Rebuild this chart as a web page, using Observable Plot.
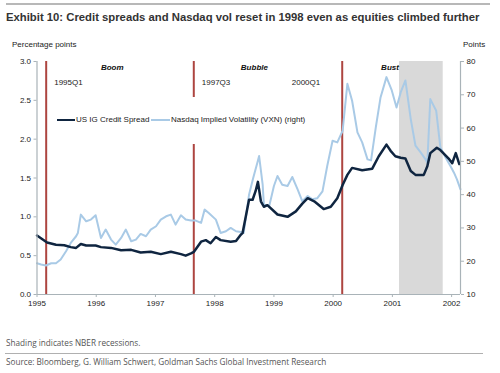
<!DOCTYPE html>
<html><head><meta charset="utf-8">
<script src="https://cdn.jsdelivr.net/npm/d3@7"></script>
<script src="https://cdn.jsdelivr.net/npm/@observablehq/plot@0.6"></script>
<style>
body{margin:0;background:#fff;}
#wrap{position:relative;width:500px;height:373px;overflow:hidden;font-family:"Liberation Sans",Arial,sans-serif;color:#222;}
.abs{position:absolute;white-space:nowrap;}
.sm{font-size:8px;line-height:10px;}
.note{font-family:"Open Sans",sans-serif;font-size:8.2px;line-height:10px;color:#555;}
</style></head><body>
<div id="wrap">
  <div class="abs" style="left:6px;top:3px;width:484px;height:2px;background:#b8b8b8"></div>
  <div class="abs" id="title" style="left:6px;top:10px;font-weight:bold;font-size:11.3px;line-height:14px;font-family:'Liberation Sans Narrow','Liberation Sans',sans-serif;color:#333">Exhibit 10: Credit spreads and Nasdaq vol reset in 1998 even as equities climbed further</div>
  <div class="abs sm" style="left:12px;top:40px">Percentage points</div>
  <div class="abs sm" style="left:463px;top:40px">Points</div>
  <div id="chart" class="abs" style="left:0;top:30px"></div>
  <div class="abs" id="legend" style="left:55px;top:97px;width:255px;height:47px;background:#fff">
    <div class="abs" style="left:2px;top:22px;width:18px;height:2px;background:#0f2540"></div>
    <div class="abs sm" style="left:21px;top:18px">US IG Credit Spread</div>
    <div class="abs" style="left:96px;top:22px;width:19px;height:2px;background:#a9cae6"></div>
    <div class="abs sm" style="left:116px;top:18px">Nasdaq Implied Volatility (VXN) (right)</div>
  </div>
  <div class="abs note" style="left:6px;top:338px">Shading indicates NBER recessions.</div>
  <div class="abs" style="left:5px;top:353px;width:478px;height:1px;background:#b0b0b0"></div>
  <div class="abs note" style="left:6px;top:357px">Source: Bloomberg, G. William Schwert, Goldman Sachs Global Investment Research</div>
</div>
<script>
// ---- data ----
const spreadYears = [1995.00,1995.17,1995.32,1995.46,1995.57,1995.66,1995.74,1995.83,1995.99,1996.08,1996.25,1996.42,1996.59,1996.75,1996.92,1997.09,1997.26,1997.43,1997.51,1997.60,1997.65,1997.77,1997.85,1997.93,1998.02,1998.10,1998.27,1998.36,1998.44,1998.47,1998.58,1998.64,1998.69,1998.73,1998.78,1998.83,1998.89,1999.06,1999.23,1999.37,1999.48,1999.57,1999.68,1999.84,1999.96,2000.07,2000.16,2000.24,2000.32,2000.49,2000.66,2000.77,2000.90,2000.97,2001.05,2001.14,2001.22,2001.31,2001.39,2001.53,2001.59,2001.64,2001.75,2001.81,2001.95,2002.01,2002.07,2002.13];
const spreadValues = [0.76,0.67,0.64,0.635,0.61,0.60,0.65,0.63,0.63,0.61,0.60,0.57,0.575,0.54,0.55,0.52,0.55,0.52,0.50,0.53,0.55,0.68,0.70,0.66,0.74,0.70,0.68,0.69,0.77,0.79,1.22,1.22,1.33,1.45,1.20,1.13,1.15,1.03,1.00,1.07,1.17,1.24,1.20,1.10,1.13,1.24,1.41,1.54,1.63,1.60,1.62,1.78,1.93,1.85,1.78,1.76,1.75,1.59,1.54,1.54,1.65,1.82,1.89,1.86,1.75,1.69,1.82,1.68];
const vxnYears = [1995.00,1995.07,1995.15,1995.24,1995.32,1995.40,1995.49,1995.57,1995.66,1995.69,1995.74,1995.83,1995.91,1995.99,1996.08,1996.16,1996.25,1996.33,1996.42,1996.50,1996.59,1996.67,1996.75,1996.84,1996.92,1997.01,1997.09,1997.18,1997.26,1997.34,1997.43,1997.51,1997.60,1997.68,1997.77,1997.83,1997.90,1998.02,1998.10,1998.19,1998.27,1998.36,1998.44,1998.49,1998.58,1998.65,1998.72,1998.75,1998.81,1998.83,1998.92,1999.00,1999.06,1999.14,1999.23,1999.31,1999.40,1999.48,1999.57,1999.65,1999.73,1999.82,1999.90,1999.99,2000.07,2000.16,2000.24,2000.32,2000.41,2000.49,2000.58,2000.64,2000.72,2000.80,2000.90,2000.99,2001.07,2001.14,2001.22,2001.31,2001.39,2001.48,2001.56,2001.59,2001.64,2001.74,2001.81,2001.90,2001.98,2002.04,2002.09,2002.15];
const vxnValues = [19.4,19.0,18.7,19.4,19.4,20.5,23.0,25.5,27.5,28.5,34.0,32.0,32.5,33.8,27.0,29.5,26.5,25.0,27.0,29.5,26.0,26.5,28.2,27.5,29.5,30.5,32.5,33.5,34.0,31.0,33.8,32.5,32.2,32.2,31.5,35.5,34.5,32.5,28.5,29.0,30.0,29.0,28.8,28.5,40.0,45.0,49.6,51.6,43.0,37.0,36.5,42.6,45.6,43.0,42.6,45.3,41.6,38.0,39.6,38.6,38.9,41.0,48.6,56.2,55.7,59.2,73.3,68.2,58.7,55.7,50.6,50.3,60.2,69.2,75.3,71.3,66.2,70.7,74.3,62.7,54.7,52.6,50.6,49.6,68.7,65.2,54.2,51.1,48.6,46.6,44.6,41.6];
const eventYears = [1995.155, 1997.647, 2000.153];
const eventLabels = ["1995Q1", "1997Q3", "2000Q1"];
const phaseNames = ["Boom", "Bubble", "Bust"];
const phaseYears = [1996.27, 1998.67, 2000.96];
const recessionStart = [2001.12];
const recessionEnd = [2001.858];
const xTicks = [1995,1996,1997,1998,1999,2000,2001,2002];
const leftTicks = [0,0.5,1.0,1.5,2.0,2.5,3.0];
const rightTicks = [10,20,30,40,50,60,70,80];
const xDomain = [1995, 2002.15];
const leftDomain = [0, 3];
const rightDomain = [10, 80];

// map right-axis values onto the left scale
const toLeft = v => leftDomain[0] + (v - rightDomain[0]) * (leftDomain[1]-leftDomain[0]) / (rightDomain[1]-rightDomain[0]);
const fromLeft = y => rightDomain[0] + (y - leftDomain[0]) * (rightDomain[1]-rightDomain[0]) / (leftDomain[1]-leftDomain[0]);

const spread = spreadYears.map((t,i)=>({t, v: spreadValues[i]}));
const vxn = vxnYears.map((t,i)=>({t, v: vxnValues[i]}));
const recessions = recessionStart.map((s,i)=>({s, e: recessionEnd[i]}));
const events = eventYears.map((t,i)=>({t, label: eventLabels[i]}));
const phases = phaseYears.map((t,i)=>({t, name: phaseNames[i]}));

const axisColor = "#a9b3b8";
const navy = "#0f2540", light = "#a9cae6", red = "#ad4540";

const chart = Plot.plot({
  width: 500, height: 284,
  marginTop: 31, marginBottom: 20, marginLeft: 36.5, marginRight: 40,
  style: {fontFamily: "'Liberation Sans', Arial, sans-serif", fontSize: "8px", color: "#222", background: "transparent"},
  x: {type: "linear", domain: xDomain},
  y: {domain: leftDomain},
  marks: [
    Plot.rect(recessions, {x1: "s", x2: "e", fill: "#d9d9d9"}),
    Plot.ruleX(events, {x: "t", stroke: red, strokeWidth: 2}),
    Plot.line(vxn, {x: "t", y: d => toLeft(d.v), stroke: light, strokeWidth: 2}),
    Plot.line(spread, {x: "t", y: "v", stroke: navy, strokeWidth: 2.5}),
    Plot.ruleX([xDomain[0]], {stroke: axisColor, strokeWidth: 1.2}),
    Plot.ruleX([xDomain[1]], {stroke: axisColor, strokeWidth: 1.2}),
    Plot.ruleY([leftDomain[0]], {stroke: axisColor, strokeWidth: 1.2}),
    Plot.axisY(leftTicks, {anchor: "left", tickFormat: d => d.toFixed(1), tickSize: 3, tickPadding: 3, stroke: axisColor, fill: "#222", label: null}),
    Plot.axisY(rightTicks.map(toLeft), {anchor: "right", tickFormat: d => String(Math.round(fromLeft(d))), tickSize: 3, tickPadding: 3, stroke: axisColor, fill: "#222", label: null}),
    Plot.axisX(xTicks, {anchor: "bottom", tickFormat: d => String(d), tickSize: 3, tickPadding: 3, stroke: axisColor, fill: "#222", label: null}),
    Plot.text(phases, {x: "t", text: "name", frameAnchor: "top", lineAnchor: "middle", dy: 6, fontWeight: "bold", fontStyle: "italic", fill: "#111"}),
    Plot.text(events.slice(0,2), {x: "t", text: "label", frameAnchor: "top", lineAnchor: "middle", textAnchor: "start", dy: 21, dx: 8, fill: "#222"}),
    Plot.text(events.slice(2), {x: "t", text: "label", frameAnchor: "top", lineAnchor: "middle", textAnchor: "end", dy: 21, dx: -22, fill: "#222"})
  ]
});
document.getElementById("chart").appendChild(chart);
</script>
</body></html>
